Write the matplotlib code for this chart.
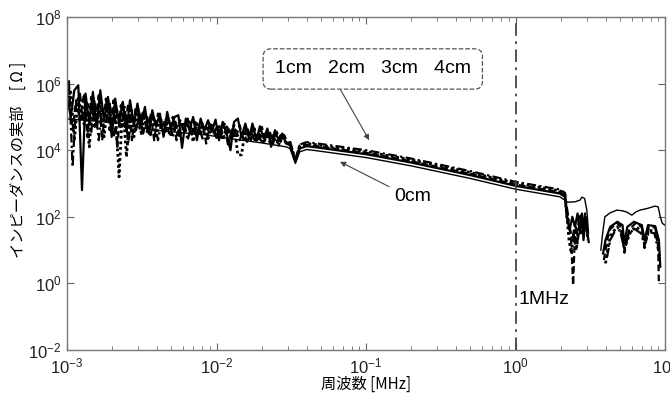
import numpy as np
import matplotlib
matplotlib.use("Agg")
import matplotlib.pyplot as plt
from matplotlib.ticker import LogLocator, NullLocator, NullFormatter

plt.rcParams['font.family'] = ['Liberation Sans', 'Noto Sans CJK JP', 'DejaVu Sans']
plt.rcParams['mathtext.fontset'] = 'custom'
plt.rcParams['mathtext.rm'] = 'Liberation Sans'
plt.rcParams['mathtext.it'] = 'Liberation Sans'
plt.rcParams['mathtext.default'] = 'regular'

# ---- data (frequency in MHz, impedance given as log10 of Ohm) ----
f_noise = [1.00e-3, 1.06e-3, 1.12e-3, 1.19e-3, 1.26e-3, 1.33e-3, 1.41e-3, 1.49e-3, 1.58e-3, 1.67e-3,
           1.77e-3, 1.88e-3, 1.99e-3, 2.10e-3, 2.23e-3, 2.36e-3, 2.50e-3, 2.64e-3, 2.80e-3, 2.96e-3,
           3.14e-3, 3.32e-3, 3.52e-3, 3.72e-3, 3.94e-3, 4.18e-3, 4.42e-3, 4.68e-3, 4.96e-3, 5.25e-3,
           5.56e-3, 5.88e-3, 6.23e-3, 6.60e-3, 6.98e-3, 7.40e-3, 7.83e-3, 8.29e-3, 8.78e-3, 9.30e-3,
           9.85e-3, 1.04e-2, 1.10e-2, 1.17e-2, 1.24e-2, 1.31e-2, 1.39e-2, 1.47e-2, 1.56e-2, 1.65e-2,
           1.74e-2, 1.85e-2, 1.95e-2, 2.07e-2, 2.19e-2, 2.32e-2, 2.46e-2, 2.60e-2, 2.76e-2, 2.92e-2]
f_noise_b = [1.03e-3, 1.09e-3, 1.15e-3, 1.22e-3, 1.30e-3, 1.37e-3, 1.45e-3, 1.53e-3, 1.63e-3, 1.72e-3,
             1.82e-3, 1.93e-3, 2.05e-3, 2.17e-3, 2.29e-3, 2.43e-3, 2.57e-3, 2.72e-3, 2.88e-3, 3.05e-3,
             3.23e-3, 3.42e-3, 3.62e-3, 3.83e-3, 4.06e-3, 4.30e-3, 4.55e-3, 4.82e-3, 5.10e-3, 5.40e-3,
             5.72e-3, 6.06e-3, 6.41e-3, 6.79e-3, 7.19e-3, 7.61e-3, 8.06e-3, 8.54e-3, 9.04e-3, 9.57e-3,
             1.01e-2, 1.07e-2, 1.13e-2, 1.20e-2, 1.27e-2, 1.35e-2, 1.43e-2, 1.51e-2, 1.60e-2, 1.70e-2,
             1.80e-2, 1.90e-2, 2.01e-2, 2.13e-2, 2.26e-2, 2.39e-2, 2.53e-2, 2.68e-2, 2.84e-2, 3.00e-2]

n1 = [5.6, 5.0, 5.8, 5.95, 2.8, 5.7, 4.8, 5.75, 4.7, 5.8,
      4.9, 5.6, 4.4, 5.55, 4.8, 5.45, 4.6, 5.5, 4.75, 5.4,
      4.75, 5.3, 4.5, 5.2, 4.7, 5.1, 4.4, 5.15, 4.65, 5.0,
      5.05, 4.07, 4.95, 4.6, 5.0, 4.3, 4.95, 4.58, 4.9, 4.55,
      4.92, 4.3, 4.85, 4.5, 4.0, 4.85, 4.95, 4.4, 4.8, 4.35,
      4.8, 4.3, 4.72, 4.35, 4.65, 4.1, 4.6, 4.3, 4.5, 4.2]
n2 = [5.85, 4.6, 5.5, 4.9, 5.7, 4.4, 5.6, 4.7, 5.65, 4.3,
      5.55, 4.6, 5.5, 4.1, 5.35, 4.7, 5.4, 4.3, 5.3, 4.65,
      5.2, 4.55, 5.1, 4.3, 5.1, 4.65, 4.95, 4.5, 5.0, 4.3,
      4.9, 4.55, 4.95, 4.45, 4.85, 4.5, 4.8, 4.2, 4.85, 4.5,
      4.75, 4.4, 4.8, 4.1, 4.7, 4.4, 4.75, 4.35, 4.7, 4.3,
      4.65, 4.25, 4.7, 4.3, 4.6, 4.2, 4.55, 4.25, 4.45, 4.2]
n3 = [5.4, 5.75, 4.3, 5.6, 4.9, 5.5, 4.1, 5.6, 4.7, 5.45,
      4.4, 5.5, 4.7, 5.3, 3.2, 5.4, 3.8, 5.2, 4.4, 5.3,
      4.5, 5.15, 4.6, 5.05, 4.35, 5.0, 4.6, 4.95, 4.4, 4.9,
      4.4, 4.85, 4.6, 4.85, 4.25, 4.8, 4.5, 4.75, 4.35, 4.8,
      4.45, 4.75, 4.3, 4.7, 4.4, 4.75, 3.86, 3.86, 4.65, 4.35,
      4.65, 4.3, 4.6, 4.2, 4.55, 4.3, 4.5, 4.15, 4.45, 4.2]
n4 = [6.1, 3.5, 5.4, 5.7, 4.7, 5.4, 4.5, 5.5, 4.3, 5.3,
      4.8, 5.4, 4.4, 5.2, 4.65, 5.3, 4.2, 5.2, 4.55, 5.1,
      4.5, 5.0, 4.45, 4.95, 4.3, 4.9, 4.55, 4.85, 4.4, 4.85,
      4.45, 4.8, 4.3, 4.75, 4.5, 4.7, 4.35, 4.7, 4.5, 4.65,
      4.3, 4.65, 4.4, 4.65, 4.35, 4.6, 4.3, 4.6, 4.25, 4.55,
      4.3, 4.55, 4.2, 4.5, 4.25, 4.45, 4.2, 4.45, 4.3, 4.2]

f_0cm_low = [1e-3, 1.5e-3, 2.13e-3, 3.0e-3, 3.95e-3, 6e-3, 8.5e-3, 0.0142, 0.02, 0.0293]
v_0cm_low = [4.94, 4.88, 4.82, 4.7, 4.6, 4.52, 4.46, 4.31, 4.22, 4.1]

f_mid = [0.031, 0.0337, 0.036, 0.040, 0.044, 0.1, 0.2, 0.5, 1.0, 1.98, 2.14]
m0 = [4.05, 3.6, 3.95, 4.02, 4.0, 3.78, 3.53, 3.15, 2.83, 2.6, 2.5]
m1 = [4.15, 3.65, 4.05, 4.12, 4.1, 3.88, 3.63, 3.25, 2.93, 2.7, 2.6]
m2 = [4.19, 3.67, 4.09, 4.16, 4.14, 3.92, 3.67, 3.29, 2.97, 2.74, 2.64]
m3 = [4.23, 3.7, 4.13, 4.2, 4.18, 3.96, 3.71, 3.33, 3.01, 2.78, 2.68]
m4 = [4.27, 3.72, 4.17, 4.24, 4.22, 4.0, 3.75, 3.37, 3.05, 2.82, 2.72]

# 2 - 3 MHz resonance region
ft0 = [2.2, 2.3, 2.5, 2.7, 2.78, 2.9, 3.0, 3.08]
vt0 = [2.45, 2.44, 2.45, 2.5, 2.59, 2.55, 2.2, 1.51]
ft1 = [2.2, 2.3, 2.4, 2.5, 2.6, 2.7, 2.78, 2.85, 2.95, 3.05]
vt1 = [2.0, 1.6, 2.0, 1.7, 2.1, 1.5, 2.1, 1.3, 2.0, 1.4]
ft2 = [2.25, 2.35, 2.43, 2.5, 2.6, 2.7, 2.8, 2.9, 3.0, 3.1]
vt2 = [1.9, 1.4, -0.05, 1.6, 1.2, 1.9, 1.5, 2.0, 1.6, 1.2]
ft3 = [2.2, 2.28, 2.36, 2.45, 2.55, 2.65, 2.75, 2.85, 2.95, 3.05]
vt3 = [2.1, 1.3, 0.9, 1.5, 1.0, 1.8, 2.05, 1.6, 1.9, 1.3]
ft4 = [2.22, 2.3, 2.4, 2.5, 2.62, 2.72, 2.82, 2.92, 3.02]
vt4 = [2.2, 1.7, 1.3, 1.8, 1.4, 2.1, 1.7, 2.1, 1.5]

# 4 - 10 MHz region
fh0 = [3.72, 3.85, 3.96, 4.3, 4.76, 5.2, 5.56, 6.0, 6.4, 6.8, 7.6, 8.57, 9.0, 9.3, 9.6, 10.0]
vh0 = [1.0, 1.6, 2.0, 2.12, 2.2, 2.18, 2.14, 2.05, 2.15, 2.2, 2.25, 2.32, 2.3, 2.0, 1.8, 1.75]
fh1 = [3.85, 4.0, 4.3, 4.8, 5.2, 5.35, 5.6, 6.2, 7.0, 7.3, 7.7, 8.6, 9.1, 9.3]
vh1 = [0.9, 1.3, 1.7, 1.85, 1.75, 1.2, 1.7, 1.85, 1.75, 1.3, 1.75, 1.72, 1.3, 0.5]
fh2 = [3.9, 4.1, 4.29, 4.76, 5.1, 5.35, 5.76, 6.4, 7.0, 7.3, 7.8, 8.6, 9.0, 9.1]
vh2 = [0.7, 1.3, 1.62, 1.82, 1.7, 0.92, 1.62, 1.82, 1.68, 1.06, 1.7, 1.68, 1.1, 0.0]
fh3 = [4.0, 4.2, 4.4, 4.8, 5.1, 5.35, 5.6, 5.9, 6.4, 7.0, 7.3, 7.8, 8.6, 9.0, 9.2]
vh3 = [0.6, 1.2, 1.5, 1.7, 1.55, 1.05, 1.3, 1.55, 1.7, 1.55, 1.2, 1.6, 1.55, 1.2, 0.7]
fh4 = [4.1, 4.3, 4.6, 5.0, 5.3, 5.6, 6.2, 6.9, 7.3, 7.8, 8.5, 9.0]
vh4 = [0.8, 1.3, 1.55, 1.6, 1.1, 1.4, 1.65, 1.5, 1.15, 1.55, 1.5, 1.0]


def series(parts):
    f, v = [], []
    for i, (ff, vv) in enumerate(parts):
        if i == len(parts) - 1:
            f += list(ff)
            v += list(vv)
        else:
            f += list(ff) + [np.nan]
            v += list(vv) + [np.nan]
    return np.array(f, dtype=float), 10.0 ** np.array(v, dtype=float)


def joined(a_f, a_v, b_f, b_v):
    return list(a_f) + list(b_f), list(a_v) + list(b_v)


fig = plt.figure(figsize=(6.7, 3.98), dpi=100)
ax = fig.add_axes([67 / 670, (398 - 350) / 398, (665 - 67) / 670, (350 - 17) / 398])

lines = [
    (f_0cm_low, v_0cm_low, m0, ft0, vt0, fh0, vh0, dict(ls='-', lw=1.0)),
    (f_noise, n1, m1, ft1, vt1, fh1, vh1, dict(ls='-', lw=1.6)),
    (f_noise_b, n2, m2, ft2, vt2, fh2, vh2, dict(ls=(0, (3, 1.5)), lw=1.6)),
    (f_noise, n3, m3, ft3, vt3, fh3, vh3, dict(ls=(0, (1, 1)), lw=2.0)),
    (f_noise_b, n4, m4, ft4, vt4, fh4, vh4, dict(ls=(0, (4, 1.5, 1, 1.5)), lw=1.6)),
]
for fl, vl, mm, ft, vt, fh, vh, st in lines:
    fa, va = joined(fl, vl, f_mid, mm)
    fa, va = joined(fa, va, ft, vt)
    x, y = series([(fa, va), (fh, vh)])
    ax.plot(x, y, color='black', **st)

ax.axvline(1.0, color='#444444', lw=1.3, ls=(0, (7, 3, 1.5, 3)))

ax.set_xscale('log')
ax.set_yscale('log')
ax.set_xlim(1e-3, 10)
ax.set_ylim(1e-2, 1e8)
ax.set_yticks([1e-2, 1e0, 1e2, 1e4, 1e6, 1e8])
ax.yaxis.set_minor_locator(NullLocator())
ax.xaxis.set_major_locator(LogLocator(base=10, numticks=10))
ax.xaxis.set_minor_locator(LogLocator(base=10, subs=np.arange(2, 10), numticks=20))
ax.xaxis.set_minor_formatter(NullFormatter())
ax.tick_params(which='both', direction='in', top=True, right=True, color='#666666',
               labelsize=12, labelcolor='#222222')
ax.tick_params(which='major', length=5)
ax.tick_params(axis='x', which='major', pad=5)
ax.tick_params(axis='y', which='major', pad=4)
ax.tick_params(which='minor', length=3)
for s in ax.spines.values():
    s.set_color('#777777')
    s.set_linewidth(1.0)

ax.set_xlabel('周波数 [MHz]', fontsize=11, family=['Noto Sans CJK JP'])
ax.xaxis.set_label_coords(0.5, -0.078)
ax.set_ylabel('インピーダンスの実部　[ Ω ]', fontsize=11, family=['Noto Sans CJK JP'])
ax.yaxis.set_label_coords(-0.068, 0.57)

ax.text(1.05, 0.32, '1MHz', fontsize=14, ha='left', va='center')

ax.annotate('1cm   2cm   3cm   4cm', xy=(0.105, 2.0e4), xytext=(0.111, 2.75e6),
            fontsize=14, ha='center', va='center',
            bbox=dict(boxstyle='round,pad=0.6,rounding_size=0.4', fc='white', ec='#555555',
                      ls='--', lw=0.9),
            arrowprops=dict(arrowstyle='-|>', color='#444444', lw=0.8, shrinkA=0, shrinkB=0,
                            mutation_scale=8, relpos=(0.3, 0.0)))
ax.annotate('0cm', xy=(0.067, 4.5e3), xytext=(0.206, 415), fontsize=14, ha='center', va='center',
            arrowprops=dict(arrowstyle='-|>', color='#444444', lw=0.8, shrinkA=2, shrinkB=0,
                            mutation_scale=8, relpos=(0.0, 0.9)))

fig.savefig('out.png', dpi=100)
